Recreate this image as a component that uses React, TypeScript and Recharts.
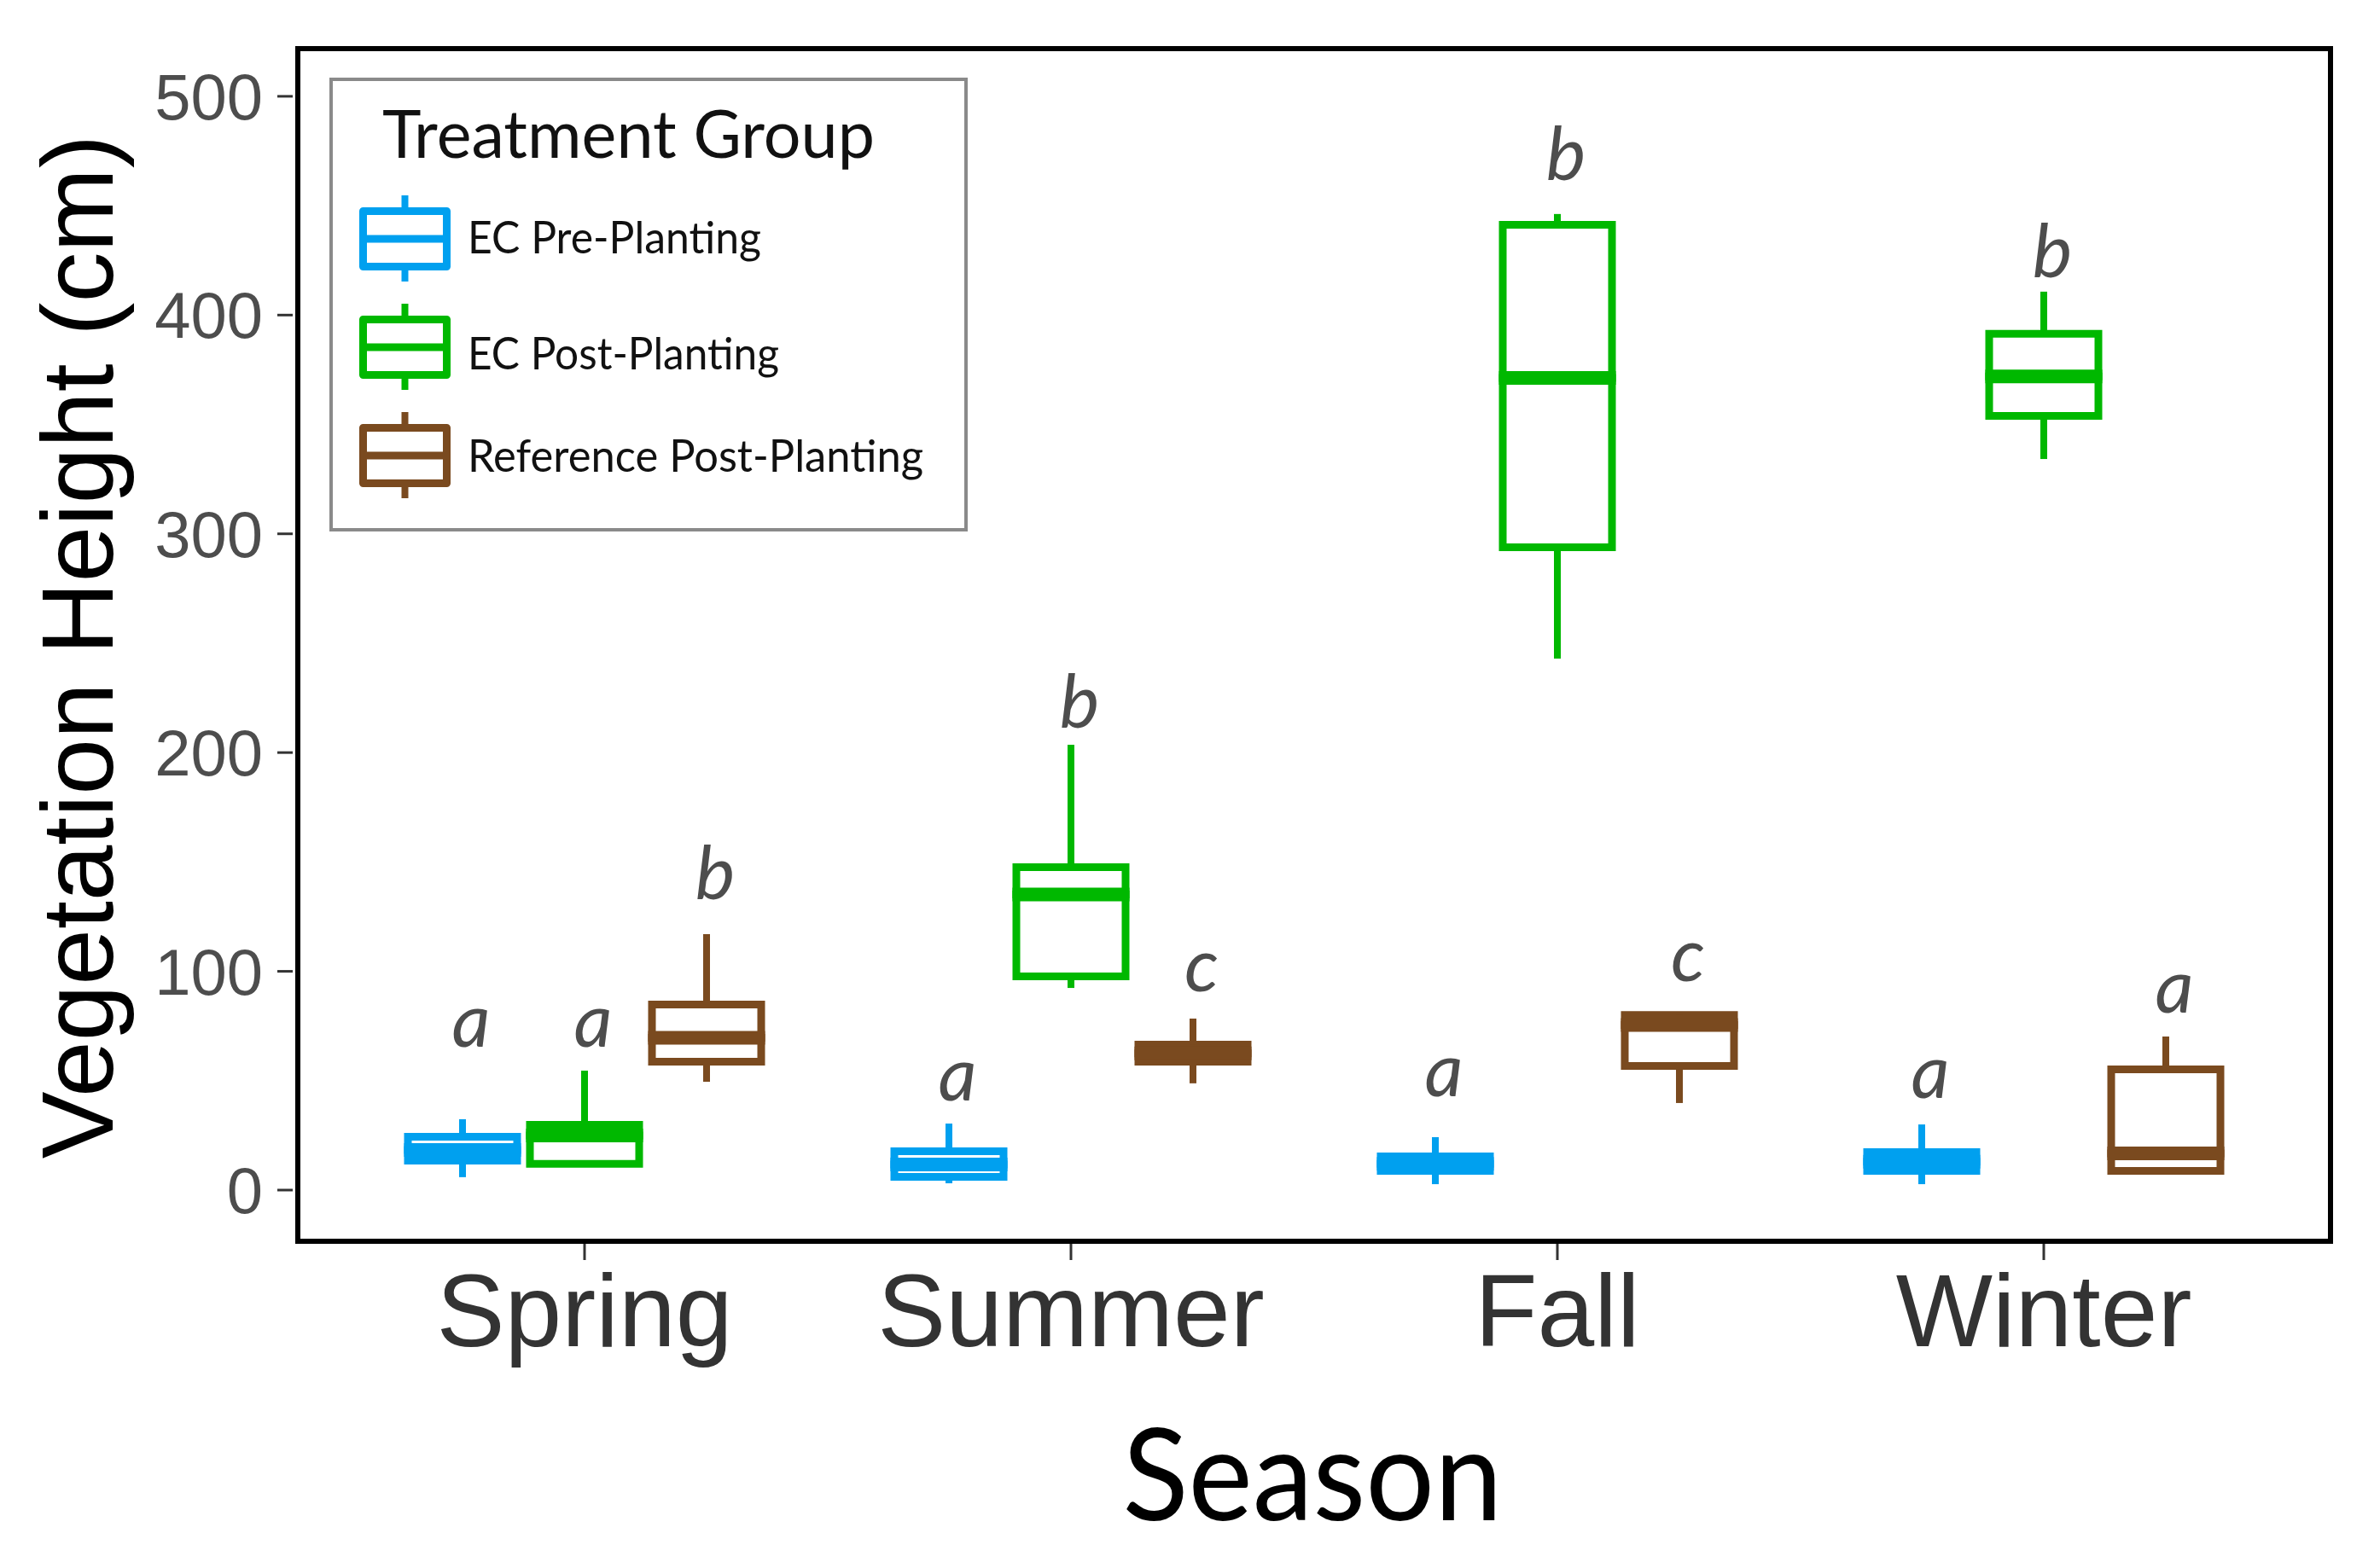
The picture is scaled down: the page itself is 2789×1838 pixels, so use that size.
import React from 'react'
import { ComposedChart, Bar, XAxis, YAxis, Legend, Label } from 'recharts'

const seasons = ['Spring', 'Summer', 'Fall', 'Winter']

// EC Pre-Planting
const preLow = [5.9, 3.1, 2.7, 2.7]
const preQ1 = [13.5, 6.0, 8.8, 8.8]
const preMedian = [18.3, 11.7, 12.0, 13.0]
const preQ3 = [24.4, 17.7, 15.4, 17.4]
const preHigh = [32.4, 30.4, 24.2, 30.0]
const preLetters = ['a', 'a', 'a', 'a']
const preLetterY = [65.5, 41.0, 42.9, 42.1]

// EC Post-Planting
const postLow = [11.0, 92.4, 243.0, 334.2]
const postQ1 = [12.0, 97.7, 293.9, 353.9]
const postMedian = [25.0, 135.1, 371.3, 371.9]
const postQ3 = [29.8, 147.6, 441.3, 391.4]
const postHigh = [54.6, 203.6, 446.2, 410.7]
const postLetters = ['a', 'b', 'b', 'b']
const postLetterY = [65.5, 211.4, 461.7, 417.3]

// Reference Post-Planting
const refLow = [49.5, 48.8, 39.8, 8.0]
const refQ1 = [58.7, 58.7, 56.7, 8.8]
const refMedian = [69.6, 62.5, 75.5, 16.8]
const refQ3 = [84.8, 66.5, 80.0, 55.2]
const refHigh = [117.0, 78.4, 81.0, 70.2]
const refLetters = ['b', 'c', 'c', 'a']
const refLetterY = [133.0, 90.9, 95.6, 81.1]

const yTicks = [0, 100, 200, 300, 400, 500]

const groups = [
  { key: 'pre', name: 'EC Pre-Planting', color: '#00A0EF', low: preLow, q1: preQ1, median: preMedian, q3: preQ3, high: preHigh, letters: preLetters, letterY: preLetterY },
  { key: 'post', name: 'EC Post-Planting', color: '#00B800', low: postLow, q1: postQ1, median: postMedian, q3: postQ3, high: postHigh, letters: postLetters, letterY: postLetterY },
  { key: 'ref', name: 'Reference Post-Planting', color: '#7A4A1F', low: refLow, q1: refQ1, median: refMedian, q3: refQ3, high: refHigh, letters: refLetters, letterY: refLetterY },
]

// stacked segments: 0->low (hidden), low->q1, q1->median, median->q3, q3->high, high->letter
const data = seasons.map((season, i) => {
  const row: Record<string, any> = { season }
  groups.forEach((g) => {
    row[`${g.key}_base`] = g.low[i]
    row[`${g.key}_w1`] = g.q1[i] - g.low[i]
    row[`${g.key}_b1`] = g.median[i] - g.q1[i]
    row[`${g.key}_b2`] = g.q3[i] - g.median[i]
    row[`${g.key}_w2`] = g.high[i] - g.q3[i]
    row[`${g.key}_gap`] = g.letterY[i] - g.high[i]
    row[`${g.key}_letter`] = g.letters[i]
  })
  return row
})

const BOX_W = 9
const MED_W = 16
const WHISK_W = 8

function makeShape(part: string, key: string, color: string) {
  return (p: any) => {
    const { x, y, width, height, payload } = p
    const cx = x + width / 2
    if (part === 'base') return <g />
    if (part === 'w1' || part === 'w2') {
      return <line x1={cx} x2={cx} y1={y} y2={y + height} stroke={color} strokeWidth={WHISK_W} />
    }
    if (part === 'b1') {
      return (
        <path
          d={`M${x},${y} V${y + height} H${x + width} V${y}`}
          fill="none"
          stroke={color}
          strokeWidth={BOX_W}
          strokeLinecap="square"
        />
      )
    }
    if (part === 'b2') {
      return (
        <g>
          <path
            d={`M${x},${y + height} V${y} H${x + width} V${y + height}`}
            fill="none"
            stroke={color}
            strokeWidth={BOX_W}
            strokeLinecap="square"
          />
          <line x1={x - BOX_W / 2} x2={x + width + BOX_W / 2} y1={y + height} y2={y + height} stroke={color} strokeWidth={MED_W} />
        </g>
      )
    }
    // letter above the box
    return (
      <text
        x={cx + 10}
        y={y}
        textAnchor="middle"
        fontFamily="Lato, 'Open Sans', sans-serif"
        fontStyle="italic"
        fontSize={88}
        fill="#4d4d4d"
      >
        {payload[`${key}_letter`]}
      </text>
    )
  }
}

const parts = ['base', 'w1', 'b1', 'b2', 'w2', 'gap']

function LegendBox() {
  const items = [
    { y: 206, w: 344 },
    { y: 342, w: 365 },
    { y: 462, w: 534 },
  ]
  return (
    <svg width={748} height={532} style={{ display: 'block' }}>
      <rect x={2} y={2} width={744} height={528} fill="#fff" stroke="#8a8a8a" strokeWidth={4} />
      <text x={62} y={94} fontFamily="Lato, 'Open Sans', sans-serif" fontSize={78} fill="#111" textLength={577} lengthAdjust="spacingAndGlyphs">
        Treatment Group
      </text>
      {groups.map((g, i) => {
        const cy = 189 + 127 * i
        return (
          <g key={g.key}>
            <line x1={88.5} x2={88.5} y1={cy - 51} y2={cy - 36} stroke={g.color} strokeWidth={8} />
            <line x1={88.5} x2={88.5} y1={cy + 36} y2={cy + 50} stroke={g.color} strokeWidth={8} />
            <rect x={39.5} y={cy - 32.5} width={98} height={65} fill="#fff" stroke={g.color} strokeWidth={9} strokeLinejoin="round" />
            <line x1={39.5} x2={137.5} y1={cy} y2={cy} stroke={g.color} strokeWidth={9} />
            <text x={162} y={items[i].y} fontFamily="Lato, 'Open Sans', sans-serif" fontSize={52} fill="#111" textLength={items[i].w} lengthAdjust="spacingAndGlyphs">
              {g.name}
            </text>
          </g>
        )
      })}
    </svg>
  )
}

export default function App() {
  return (
    <div style={{ position: 'relative', width: 2789, height: 1838, background: '#fff' }}>
      <style>{'body{margin:0;background:#fff}'}</style>
      <ComposedChart
        width={2789}
        height={1838}
        data={data}
        margin={{ top: 57, right: 52, bottom: 0, left: 0 }}
        barSize={128}
        barGap={15}
      >
        <XAxis
          dataKey="season"
          type="category"
          height={383}
          padding={{ left: 57, right: 57 }}
          interval={0}
          axisLine={false}
          tickSize={22}
          tickMargin={16}
          tickLine={{ stroke: '#333', strokeWidth: 3 }}
          tick={{ fontSize: 120, fill: '#333', fontFamily: "'Liberation Sans', Arial, sans-serif" }}
        >
          <Label
            content={() => (
              <text x={1538} y={1782} textAnchor="middle" fontFamily="Lato, 'Open Sans', sans-serif" fontSize={150} fill="#000" textLength={445} lengthAdjust="spacingAndGlyphs">
                Season
              </text>
            )}
          />
        </XAxis>
        <YAxis
          type="number"
          domain={[-23.4, 521.8]}
          allowDataOverflow
          ticks={yTicks}
          width={343}
          axisLine={false}
          tickSize={18}
          tickMargin={17}
          tickLine={{ stroke: '#333', strokeWidth: 3 }}
          tick={{ fontSize: 76, fill: '#4d4d4d', fontFamily: "'Liberation Sans', Arial, sans-serif" }}
        >
          <Label
            content={() => (
              <text
                x={132}
                y={758}
                transform="rotate(-90 132 758)"
                textAnchor="middle"
                fontFamily="'Liberation Sans', Arial, sans-serif"
                fontSize={118}
                fill="#000"
              >
                Vegetation Height (cm)
              </text>
            )}
          />
        </YAxis>
        <Legend
          layout="vertical"
          align="center"
          verticalAlign="middle"
          wrapperStyle={{ left: 386, top: 91, width: 748, height: 532 }}
          content={() => <LegendBox />}
        />
        {groups.flatMap((g) =>
          parts.map((part) => (
            <Bar
              key={`${g.key}_${part}`}
              dataKey={`${g.key}_${part}`}
              stackId={g.key}
              fill={g.color}
              shape={makeShape(part, g.key, g.color)}
              isAnimationActive={false}
              legendType="none"
            />
          ))
        )}
      </ComposedChart>
      <div
        style={{
          position: 'absolute',
          left: 346,
          top: 54,
          width: 2388,
          height: 1404,
          border: '6px solid #000',
          boxSizing: 'border-box',
          pointerEvents: 'none',
        }}
      />
    </div>
  )
}
